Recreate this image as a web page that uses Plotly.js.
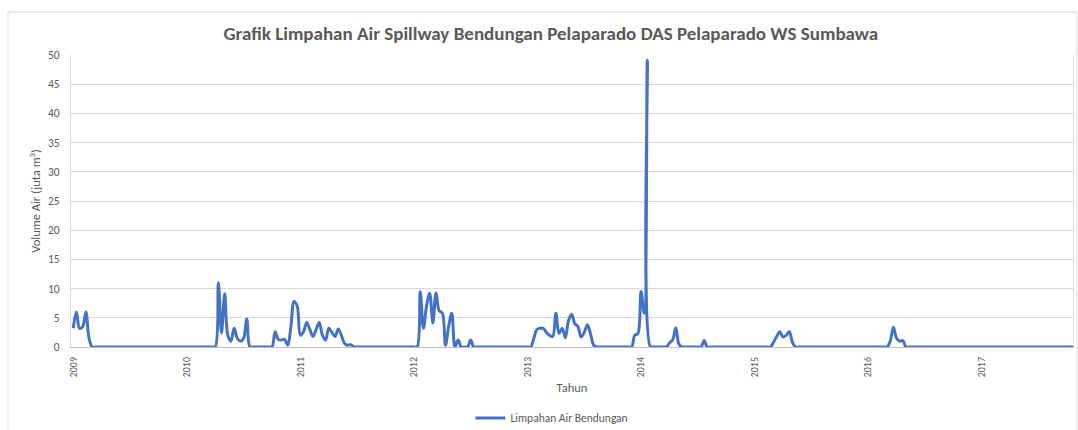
<!DOCTYPE html>
<html>
<head>
<meta charset="utf-8">
<script src="https://cdn.plot.ly/plotly-3.0.1.min.js"></script>
<style>
  html, body { margin: 0; padding: 0; background: #ffffff; overflow: hidden; }
  #chart { width: 1078px; height: 430px; }
</style>
</head>
<body>
<div id="chart"></div>
<script>
// Ten-day (dasarian) spillway overflow volumes, million m3, 36 values per year
const years = [2009, 2010, 2011, 2012, 2013, 2014, 2015, 2016, 2017];
const y2009 = [3.2,6.0,3.2,3.5,6.0,1.5,0,0,0,0,0,0,0,0,0,0,0,0,0,0,0,0,0,0,0,0,0,0,0,0,0,0,0,0,0,0];
const y2010 = [0,0,0,0,0,0,0,0,0,0,11.0,2.4,9.1,2.0,1.0,3.2,1.5,1.0,1.5,4.8,0,0,0,0,0,0,0,0,2.6,1.3,1.2,1.3,0.3,3.5,7.8,7.0];
const y2011 = [2.0,2.6,4.2,3.0,1.8,3.0,4.2,2.0,1.2,3.2,2.5,1.8,3.1,2.0,0.6,0.3,0.4,0,0,0,0,0,0,0,0,0,0,0,0,0,0,0,0,0,0,0];
const y2012 = [0,0,9.5,3.2,7.0,9.2,4.1,9.3,6.2,5.8,0.3,3.5,5.8,0,1.2,0,0,0,1.2,0,0,0,0,0,0,0,0,0,0,0,0,0,0,0,0,0];
const y2013 = [0,0,1.5,3.0,3.2,3.2,2.5,2.0,1.8,5.8,2.3,3.2,1.6,4.5,5.6,4.0,3.5,1.7,2.5,3.8,2.2,0.3,0,0,0,0,0,0,0,0,0,0,0,0,2.0,2.3];
const y2014 = [9.5,5.8,49.1,0,0,0,0,0,0,0.7,1.2,3.3,0.5,0,0,0,0,0,0,0,1.1,0,0,0,0,0,0,0,0,0,0,0,0,0,0,0];
const y2015 = [0,0,0,0,0,0,0.8,1.8,2.6,1.7,2.0,2.6,0.8,0,0,0,0,0,0,0,0,0,0,0,0,0,0,0,0,0,0,0,0,0,0,0];
const y2016 = [0,0,0,0,0,0,0,1.0,3.4,1.5,1.0,1.1,0,0,0,0,0,0,0,0,0,0,0,0,0,0,0,0,0,0,0,0,0,0,0,0];
const y2017 = [0,0,0,0,0,0,0,0,0,0,0,0,0,0,0,0,0,0,0,0,0,0,0,0,0,0,0,0,0,0];
const tickLabels = ["2009","2010","2011","2012","2013","2014","2015","2016","2017"];
const yTicks = [0,5,10,15,20,25,30,35,40,45,50];

const perYear = [y2009, y2010, y2011, y2012, y2013, y2014, y2015, y2016, y2017];
const xs = [], ys = [];
perYear.forEach((arr, i) => {
  arr.forEach((v, j) => { xs.push(years[i] + j / 36); ys.push(v); });
});

const FONT = "Carlito, Calibri, Lato, 'Liberation Sans', sans-serif";
const GREY = "#595959";

const trace = {
  x: xs, y: ys,
  type: "scatter", mode: "lines",
  name: "Limpahan Air Bendungan",
  line: { color: "#4472C4", width: 3, shape: "spline", smoothing: 1 },
  hoverinfo: "skip"
};

const layout = {
  width: 1078, height: 430,
  margin: { l: 71, r: 5, t: 55, b: 83 },
  paper_bgcolor: "#ffffff", plot_bgcolor: "#ffffff",
  font: { family: FONT, color: GREY, size: 11 },
  title: {
    text: "Grafik Limpahan Air Spillway Bendungan Pelaparado DAS Pelaparado WS Sumbawa",
    font: { family: FONT, size: 19, color: GREY, weight: "bold" },
    x: 0.511, xanchor: "center", y: 0.923, yanchor: "middle", xref: "container", yref: "container"
  },
  xaxis: {
    type: "linear",
    range: [2008.98, 2017.804],
    tickvals: years, ticktext: tickLabels,
    tickangle: -90,
    tickfont: { family: FONT, size: 10, color: GREY },
    showgrid: false, zeroline: false,
    showline: true, linecolor: "#bfbfbf", linewidth: 1,
    ticks: "outside", ticklen: 5, tickcolor: "rgba(0,0,0,0)",
    title: { text: "Tahun", font: { family: FONT, size: 12.5, color: GREY }, standoff: 6 },
    automargin: false
  },
  yaxis: {
    range: [0, 50],
    tickvals: yTicks,
    tickfont: { family: FONT, size: 11.5, color: GREY },
    showgrid: true, gridcolor: "#d9d9d9", gridwidth: 1,
    zeroline: false,
    showline: true, mirror: true, linecolor: "#d9d9d9", linewidth: 1,
    ticks: "outside", ticklen: 8, tickcolor: "rgba(0,0,0,0)",
    title: { text: "Volume Air (juta m<sup>3</sup>)", font: { family: FONT, size: 12.5, color: GREY }, standoff: 4 },
    automargin: false
  },
  showlegend: true,
  legend: {
    orientation: "h",
    xref: "container", yref: "container",
    x: 0.512, xanchor: "center",
    y: 0.028, yanchor: "middle",
    font: { family: FONT, size: 11.5, color: GREY },
    bgcolor: "rgba(0,0,0,0)"
  },
  shapes: [{
    type: "rect", xref: "paper", yref: "paper",
    x0: -0.0629, x1: 1.004, y0: -0.32, y1: 1.147,
    line: { color: "#d9d9d9", width: 1 }, fillcolor: "rgba(0,0,0,0)", layer: "below"
  }]
};

Plotly.newPlot("chart", [trace], layout, { displayModeBar: false, staticPlot: true });
</script>
</body>
</html>
